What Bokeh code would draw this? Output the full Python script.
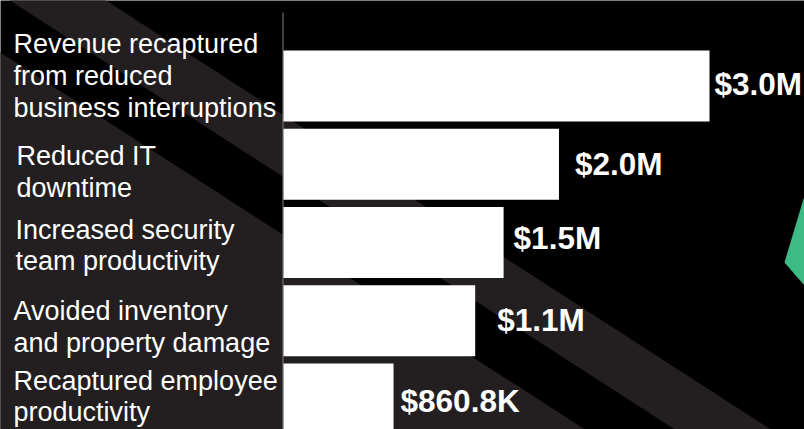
from bokeh.plotting import figure
from bokeh.models import Range1d, ColumnDataSource
from bokeh.core.properties import value
from bokeh.embed import file_html
from bokeh.resources import INLINE

# ---------------- data ----------------
categories = [
    "Revenue recaptured\nfrom reduced\nbusiness interruptions",
    "Reduced IT\ndowntime",
    "Increased security\nteam productivity",
    "Avoided inventory\nand property damage",
    "Recaptured employee\nproductivity",
]
# bar lengths as drawn, in $M
bar_lengths = [3.0, 1.94, 1.55, 1.35, 0.775]
value_labels = ["$3.0M", "$2.0M", "$1.5M", "$1.1M", "$860.8K"]

# ---------------- layout / style ----------------
W, H = 804, 429
PX_PER_UNIT = 142.0          # horizontal pixels per $1M
ZERO_PX = 283.0              # pixel column of the bar baseline
ROW_PX = 78.25               # pixels per category row
FIRST_ROW_PX = 85.5          # pixel row of first bar centre (from top)

x_start = -ZERO_PX / PX_PER_UNIT
x_end = (W - ZERO_PX) / PX_PER_UNIT
y_top = -FIRST_ROW_PX / ROW_PX
y_bottom = y_top + H / ROW_PX

BG = "#000000"
STRIPE = "#231f20"
GREEN = "#3cbb87"
AXIS = "#7f7f7f"

cat_x_off = [13, 16, 15, 13, 13]
cat_y_off = [-9.9, 8.1, 3.1, 6.6, -2.6]
val_x_off = [5, 16, 10, 22, 7]
val_y_off = [-2.5, -0.5, -5.0, -0.5, 1.5]


def px_x(px):
    return x_start + px / PX_PER_UNIT


def px_y(py):
    return y_top + py / ROW_PX


p = figure(
    width=W, height=H,
    x_range=Range1d(x_start, x_end),
    y_range=Range1d(y_bottom, y_top),
    output_backend="svg",
    toolbar_location=None,
    x_axis_location=None, y_axis_location=None,
    min_border=0,
    background_fill_color=BG, border_fill_color=BG,
    outline_line_color=None,
)
p.grid.visible = False

# ---------------- decorative background stripes ----------------
slope = 0.645
bands = [(-68.0, -6.0), (52.0, 700.0)]   # intercepts in pixel space
xs, ys = [], []
for c1, c2 in bands:
    pts_px = [(-20, slope * -20 + c1), (830, slope * 830 + c1),
              (830, slope * 830 + c2), (-20, slope * -20 + c2)]
    xs.append([px_x(a) for a, b in pts_px])
    ys.append([px_y(b) for a, b in pts_px])
p.patches(xs, ys, fill_color=STRIPE, line_color=None)

# green decorative shape at the right edge
g_px = [(804, 195), (784, 262), (804, 285), (815, 285), (815, 195)]
p.patch([px_x(a) for a, b in g_px], [px_y(b) for a, b in g_px],
        fill_color=GREEN, line_color=None)

# ---------------- axis line ----------------
p.segment(x0=[-0.5 / PX_PER_UNIT], x1=[-0.5 / PX_PER_UNIT],
          y0=[px_y(12)], y1=[y_bottom], line_color=AXIS, line_width=1)

# ---------------- bars ----------------
idx = list(range(len(categories)))
src = ColumnDataSource(dict(
    y=idx, right=bar_lengths, cat=categories, lab=value_labels,
    cx=[x_start] * len(idx), cxo=cat_x_off, cyo=cat_y_off,
    vxo=val_x_off, vyo=val_y_off,
))
p.hbar(y="y", left=0, right="right", height=71 / ROW_PX, source=src,
       fill_color="white", line_color=None)

# category labels
p.text(x="cx", y="y", text="cat", x_offset="cxo", y_offset="cyo", source=src,
       text_color="white", text_font=value("Liberation Sans"),
       text_font_size="27px", text_align="left", text_baseline="middle",
       text_line_height=1.06)

# value labels
p.text(x="right", y="y", text="lab", x_offset="vxo", y_offset="vyo", source=src,
       text_color="white", text_font=value("Liberation Sans"),
       text_font_style="bold", text_font_size="31.5px",
       text_align="left", text_baseline="middle")

open("out.html", "w").write(file_html(p, INLINE))
